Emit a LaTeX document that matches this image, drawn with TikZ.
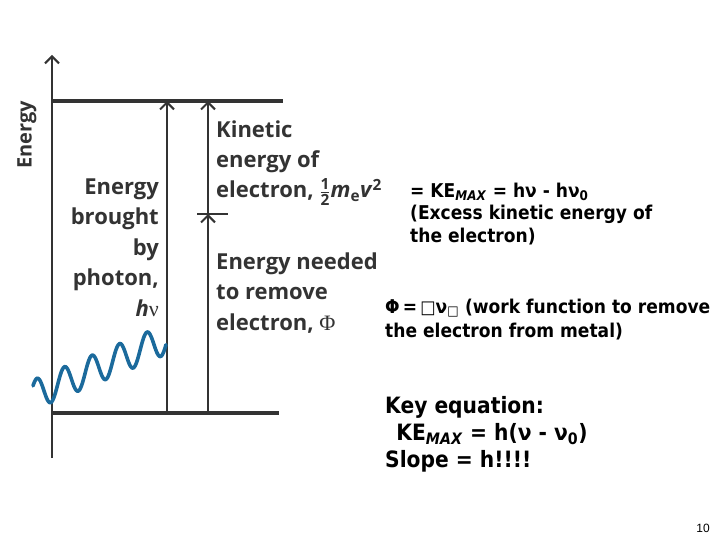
\documentclass[tikz,border=0pt]{standalone}
\usepackage{amsmath}
\usepackage{fontspec}
\setmainfont{DejaVu Sans}
\newfontfamily\figfont{Open Sans}
\newfontfamily\greekserif{Liberation Serif}
\newfontfamily\slidefont{DejaVu Sans}[FakeStretch=0.9]
\newfontfamily\numfont{Liberation Sans}
\usetikzlibrary{arrows.meta}

\definecolor{inkgray}{HTML}{333333}
\definecolor{waveblue}{HTML}{1B6A9C}

\tikzset{
  level/.style={inkgray, line width=4pt},
  energyarrow/.style={inkgray, line width=2.2pt, -{Straight Barb[length=7pt,width=14pt,line width=2pt]}},
  figtext/.style={inkgray, inner sep=0pt, font=\figfont\bfseries\fontsize{22}{30.5}\selectfont},
  slidetext/.style={black, inner sep=0pt, align=left, font=\slidefont\bfseries\fontsize{19}{22.5}\selectfont},
}

\begin{document}
\begin{tikzpicture}[x=1pt,y=-1pt]
   \useasboundingbox (0,0) rectangle (720,540);

   % axis and energy levels
   \coordinate (axisbot) at (52,458);
   \coordinate (axistop) at (52,55);
   \draw[inkgray, line width=2.4pt, -{Straight Barb[length=7pt,width=14pt,line width=2pt]}] (axisbot) -- (axistop);
   \node[figtext, rotate=90, font=\figfont\bfseries\fontsize{20}{20}\selectfont] (energylabel) at (27,135) {Energy};

   \coordinate (topL) at (52,101);
   \coordinate (topR) at (283,101);
   \coordinate (botL) at (52,413);
   \coordinate (botR) at (279,413);
   \draw[level] (topL) -- (topR);
   \draw[level] (botL) -- (botR);

   % photon arrow and electron arrows
   \coordinate (photonbot) at (167,413);
   \coordinate (photontop) at (167,101);
   \coordinate (kebot) at (208,214);
   \coordinate (ketop) at (208,101);
   \coordinate (phibot) at (208,413);
   \coordinate (tickL) at (197,214);
   \coordinate (tickR) at (228,214);
   \draw[energyarrow] (photonbot) -- (photontop);
   \draw[energyarrow] (kebot) -- (ketop);
   \draw[energyarrow] (phibot) -- (kebot);
   \draw[inkgray, line width=2.2pt] (tickL) -- (tickR);

   % incoming photon
   \draw[waveblue, line width=3.6pt, line cap=round, domain=33:166, samples=160, smooth]
      plot (\x, {390 - 0.42*(\x-45) - 15*cos(13.0909*(\x-37))});

   \node[figtext, align=right, anchor=base east] (photontext) at (159,316)
      {Energy\\brought\\by\\photon,\\\textit{h}{\greekserif\mdseries ν}};
   \node[figtext, align=left, anchor=base west, font=\figfont\bfseries\fontsize{22}{30}\selectfont] (ketext) at (216,198)
      {Kinetic\\energy of\\electron, $\frac{\text{1}}{\text{2}}$\textit{m}\textsubscript{e}\textit{v}\textsuperscript{2}};
   \node[figtext, align=left, anchor=base west] (phitext) at (216,330)
      {Energy needed\\to remove\\electron, {\greekserif\mdseries Φ}};

   % slide text
   \node[slidetext, anchor=base west] (kemax) at (410,242)
      {= KE\textsubscript{\textit{MAX}} = hν - hν\textsubscript{0}\\(Excess kinetic energy of\\the electron)};
   \node[slidetext, anchor=base west, font=\slidefont\bfseries\fontsize{19}{24}\selectfont] (workfn) at (385,337)
      {Φ\,=\,{\fontsize{18}{18}\selectfont□}ν\textsubscript{□} (work function to remove\\the electron from metal)};
   \node[slidetext, anchor=base west, font=\slidefont\bfseries\fontsize{22.5}{27}\selectfont] (keyeq) at (385,467)
      {Key equation:\\\hspace*{0.5em}KE\textsubscript{\textit{MAX}} = h(ν - ν\textsubscript{0})\\Slope = h!!!!};
   \node[anchor=base east, inner sep=0pt, font=\numfont\fontsize{12}{12}\selectfont] (pagenum) at (710,532) {10};
\end{tikzpicture}
\end{document}
